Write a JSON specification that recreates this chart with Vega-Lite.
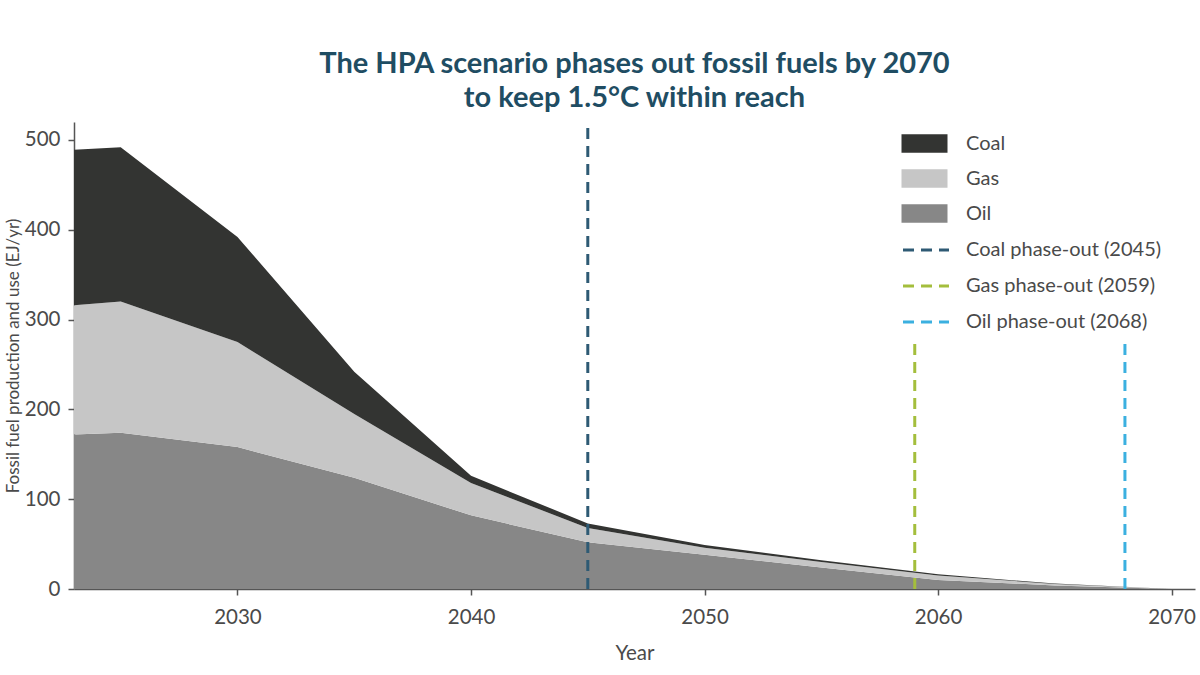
{
  "$schema": "https://vega.github.io/schema/vega-lite/v6.json",
  "width": 1121,
  "height": 467,
  "autosize": {"type": "none"},
  "padding": {"left": 74, "top": 122, "right": 5, "bottom": 86},
  "background": "white",
  "config": {
    "view": {"stroke": null},
    "font": "Lato",
    "axis": {
      "labelFont": "Lato",
      "labelFontSize": 20.5,
      "labelColor": "#4a4a4a",
      "titleFont": "Lato",
      "titleFontSize": 20.5,
      "titleFontWeight": "normal",
      "titleColor": "#4a4a4a",
      "domainColor": "#555555",
      "domainWidth": 1.5,
      "tickColor": "#555555",
      "tickWidth": 1.5,
      "tickSize": 6,
      "grid": false,
      "labelPadding": 8
    },
    "legend": {
      "labelFont": "Lato",
      "labelFontSize": 20,
      "labelColor": "#4a4a4a",
      "labelLimit": 0,
      "padding": 0,
      "rowPadding": 13
    }
  },
  "title": {
    "text": ["The HPA scenario phases out fossil fuels by 2070", "to keep 1.5°C within reach"],
    "font": "Lato",
    "fontSize": 29,
    "fontWeight": "bold",
    "color": "#1f4d63",
    "lineHeight": 34,
    "anchor": "middle",
    "offset": 9
  },
  "datasets": {
    "supply": [
      {"year": 2023, "fuel": "Oil", "rank": 0, "value": 172},
      {"year": 2025, "fuel": "Oil", "rank": 0, "value": 174},
      {"year": 2030, "fuel": "Oil", "rank": 0, "value": 158},
      {"year": 2035, "fuel": "Oil", "rank": 0, "value": 124},
      {"year": 2040, "fuel": "Oil", "rank": 0, "value": 82},
      {"year": 2045, "fuel": "Oil", "rank": 0, "value": 52},
      {"year": 2050, "fuel": "Oil", "rank": 0, "value": 38},
      {"year": 2055, "fuel": "Oil", "rank": 0, "value": 24},
      {"year": 2060, "fuel": "Oil", "rank": 0, "value": 10},
      {"year": 2065, "fuel": "Oil", "rank": 0, "value": 4},
      {"year": 2070, "fuel": "Oil", "rank": 0, "value": 0},
      {"year": 2023, "fuel": "Gas", "rank": 1, "value": 144},
      {"year": 2025, "fuel": "Gas", "rank": 1, "value": 146},
      {"year": 2030, "fuel": "Gas", "rank": 1, "value": 117},
      {"year": 2035, "fuel": "Gas", "rank": 1, "value": 71},
      {"year": 2040, "fuel": "Gas", "rank": 1, "value": 36},
      {"year": 2045, "fuel": "Gas", "rank": 1, "value": 16},
      {"year": 2050, "fuel": "Gas", "rank": 1, "value": 8},
      {"year": 2055, "fuel": "Gas", "rank": 1, "value": 6},
      {"year": 2060, "fuel": "Gas", "rank": 1, "value": 5},
      {"year": 2065, "fuel": "Gas", "rank": 1, "value": 1.5},
      {"year": 2070, "fuel": "Gas", "rank": 1, "value": 0},
      {"year": 2023, "fuel": "Coal", "rank": 2, "value": 173},
      {"year": 2025, "fuel": "Coal", "rank": 2, "value": 172},
      {"year": 2030, "fuel": "Coal", "rank": 2, "value": 117},
      {"year": 2035, "fuel": "Coal", "rank": 2, "value": 47},
      {"year": 2040, "fuel": "Coal", "rank": 2, "value": 8},
      {"year": 2045, "fuel": "Coal", "rank": 2, "value": 5},
      {"year": 2050, "fuel": "Coal", "rank": 2, "value": 3},
      {"year": 2055, "fuel": "Coal", "rank": 2, "value": 2},
      {"year": 2060, "fuel": "Coal", "rank": 2, "value": 1.5},
      {"year": 2065, "fuel": "Coal", "rank": 2, "value": 0.5},
      {"year": 2070, "fuel": "Coal", "rank": 2, "value": 0}
    ],
    "phaseout": [
      {"label": "Coal phase-out (2045)", "year": 2045, "base": 0, "top": 514},
      {"label": "Gas phase-out (2059)", "year": 2059, "base": 0, "top": 274},
      {"label": "Oil phase-out (2068)", "year": 2068, "base": 0, "top": 274}
    ]
  },
  "layer": [
    {
      "data": {"name": "supply"},
      "mark": {"type": "area", "interpolate": "linear"},
      "encoding": {
        "x": {
          "field": "year",
          "type": "quantitative",
          "scale": {"domain": [2023, 2071], "nice": false, "zero": false},
          "axis": {"values": [2030, 2040, 2050, 2060, 2070], "format": "d", "title": "Year", "labelPadding": 12, "titlePadding": 16}
        },
        "y": {
          "field": "value",
          "type": "quantitative",
          "stack": "zero",
          "scale": {"domain": [0, 520], "nice": false},
          "axis": {"values": [0, 100, 200, 300, 400, 500], "title": "Fossil fuel production and use (EJ/yr)", "titleFontSize": 17, "titlePadding": 2}
        },
        "fill": {
          "field": "fuel",
          "type": "nominal",
          "scale": {"domain": ["Coal", "Gas", "Oil"], "range": ["#333432", "#c6c6c6", "#878787"]},
          "legend": {
            "title": null,
            "orient": "none",
            "legendX": 839,
            "legendY": 10,
            "symbolType": "M-2,-0.8H2V0.8H-2Z",
            "symbolSize": 529,
            "symbolStrokeWidth": 0,
            "labelOffset": 30
          }
        },
        "order": {"field": "rank", "type": "quantitative"}
      }
    },
    {
      "data": {"name": "phaseout"},
      "mark": {"type": "rule", "strokeWidth": 3, "strokeDash": [11, 7]},
      "encoding": {
        "x": {"field": "year", "type": "quantitative"},
        "y": {"field": "base", "type": "quantitative"},
        "y2": {"field": "top"},
        "stroke": {
          "field": "label",
          "type": "nominal",
          "scale": {
            "domain": ["Coal phase-out (2045)", "Gas phase-out (2059)", "Oil phase-out (2068)"],
            "range": ["#2e5a74", "#a4be3c", "#3bb0e0"]
          },
          "legend": {
            "title": null,
            "orient": "none",
            "legendX": 839,
            "legendY": 115,
            "symbolType": "M-2,0H2",
            "symbolSize": 529,
            "symbolStrokeWidth": 3,
            "symbolDash": [11, 7],
            "labelOffset": 27
          }
        }
      }
    }
  ]
}
